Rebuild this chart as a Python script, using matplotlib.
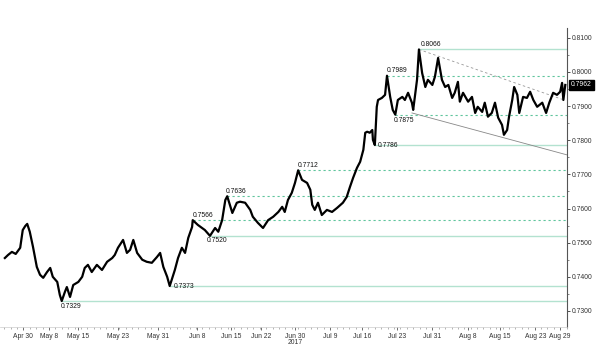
import matplotlib.pyplot as plt
from matplotlib.ticker import MultipleLocator

# x in trading days (May 1 2017 = 0), y = AUD/USD spot
t = [-1.9, -1.4, -0.8, -0.2, 0.5, 0.9, 1.3, 1.6, 2.0, 2.5,
     3.1, 3.6, 4.1, 4.7, 5.2, 5.6, 6.3, 6.7, 7.0, 7.5,
     7.8, 8.3, 8.8, 9.6, 10.2, 10.6, 11.1, 11.7, 12.5, 13.3,
     14.1, 14.9, 15.3, 15.8, 16.6, 17.2, 17.7, 18.2, 18.8, 19.6,
     20.3, 21.1, 21.9, 22.4, 22.9, 23.5, 23.9, 24.7, 25.2, 25.8,
     26.3, 26.8, 27.4, 27.5, 28.3, 29.4, 30.2, 31.0, 31.5, 32.1,
     32.6, 32.9, 33.7, 34.4, 34.9, 35.7, 36.5, 36.9, 37.7, 38.5,
     39.3, 40.1, 40.9, 41.5, 41.9, 42.4, 43.0, 43.5, 44.0, 44.6,
     45.4, 45.9, 46.2, 46.6, 47.1, 47.7, 48.5, 49.3, 50.1, 51.0,
     51.6, 52.1, 52.6, 53.2, 53.7, 54.2, 54.5, 54.8, 55.2, 55.6,
     55.7, 56.0, 56.3, 56.5, 57.1, 57.6, 57.9, 58.4, 58.8, 59.2,
     59.6, 60.3, 60.7, 61.2, 61.8, 62.0, 62.6, 62.9, 63.4, 63.9,
     64.3, 65.0, 65.4, 65.9, 66.5, 67.0, 67.5, 68.1, 68.5, 69.0,
     69.3, 69.8, 70.6, 71.2, 71.7, 72.1, 72.8, 73.2, 73.7, 74.3,
     74.8, 75.3, 75.9, 76.2, 76.7, 77.0, 77.5, 77.8, 78.3, 78.6,
     79.2, 79.8, 80.3, 80.8, 81.4, 82.2, 82.8, 83.3, 83.9, 84.5,
     85.0, 85.3, 85.5, 85.8]

price = [0.7455, 0.7464, 0.7473, 0.7467, 0.7485, 0.7537, 0.7549, 0.7555, 0.7532, 0.7488,
         0.7429, 0.7406, 0.7397, 0.7414, 0.7426, 0.7400, 0.7385, 0.7347, 0.7329, 0.7356,
         0.7370, 0.7341, 0.7376, 0.7385, 0.7400, 0.7426, 0.7435, 0.7414, 0.7435, 0.7420,
         0.7444, 0.7455, 0.7464, 0.7485, 0.7508, 0.7470, 0.7479, 0.7508, 0.7470, 0.7450,
         0.7444, 0.7441, 0.7458, 0.7470, 0.7429, 0.7400, 0.7373, 0.7420, 0.7455, 0.7485,
         0.7470, 0.7514, 0.7546, 0.7566, 0.7552, 0.7537, 0.7520, 0.7543, 0.7532, 0.7566,
         0.7625, 0.7636, 0.7587, 0.7617, 0.7620, 0.7617, 0.7596, 0.7576, 0.7558, 0.7543,
         0.7566, 0.7576, 0.7590, 0.7605, 0.7590, 0.7625, 0.7646, 0.7675, 0.7712, 0.7684,
         0.7675, 0.7655, 0.7611, 0.7596, 0.7617, 0.7581, 0.7596, 0.7590, 0.7602, 0.7617,
         0.7634, 0.7663, 0.7690, 0.7719, 0.7737, 0.7772, 0.7822, 0.7825, 0.7822, 0.7830,
         0.7801, 0.7786, 0.7898, 0.7918, 0.7924, 0.7933, 0.7989, 0.7927, 0.7889, 0.7875,
         0.7918, 0.7927, 0.7918, 0.7939, 0.7910, 0.7889, 0.7977, 0.8066, 0.7997, 0.7956,
         0.7977, 0.7962, 0.7986, 0.8041, 0.7977, 0.7956, 0.7962, 0.7924, 0.7939, 0.7971,
         0.7913, 0.7939, 0.7913, 0.7927, 0.7880, 0.7898, 0.7883, 0.7910, 0.7869, 0.7880,
         0.7910, 0.7866, 0.7845, 0.7816, 0.7830, 0.7869, 0.7918, 0.7956, 0.7933, 0.7880,
         0.7927, 0.7924, 0.7942, 0.7918, 0.7898, 0.7910, 0.7880, 0.7910, 0.7939, 0.7933,
         0.7942, 0.7968, 0.7918, 0.7962]

# support / resistance levels and where they start
levels = [0.8066, 0.7989, 0.7875, 0.7786, 0.7712, 0.7636, 0.7566, 0.7520, 0.7373, 0.7329]
level_start = [62.9, 57.9, 59.2, 56.0, 44.0, 32.9, 27.5, 30.2, 23.9, 7.0]
level_dotted = [False, True, True, False, True, True, True, False, False, False]

# trend channel
upper_x, upper_y = [62.9, 85.3], [0.8066, 0.7920]
lower_x, lower_y = [61.8, 86.1], [0.7880, 0.7757]

tick_pos = [0.9, 5.0, 9.5, 15.8, 22.1, 28.2, 33.5, 38.2, 43.5, 49.0,
            54.0, 59.5, 64.9, 70.6, 75.6, 81.1, 85.0]
tick_lab = ['Apr 30', 'May 8', 'May 15', 'May 23', 'May 31', 'Jun 8', 'Jun 15',
            'Jun 22', 'Jun 30', 'Jul 9', 'Jul 16', 'Jul 23', 'Jul 31', 'Aug 8',
            'Aug 15', 'Aug 23', 'Aug 29']
last_price = 0.7962

plt.rcParams['font.family'] = ['Liberation Sans', 'DejaVu Sans']
SOLID_GREEN = '#b3e2d0'
DOT_GREEN = '#5fc59d'
FS = 4.9

fig = plt.figure(figsize=(6, 3.51), dpi=100)
ax = fig.add_axes([0, 0.0684, 0.945, 0.852])
ax.set_xlim(-2.66, 86.07)
ax.set_ylim(0.7253, 0.8129)

for lvl, x0, dotted in zip(levels, level_start, level_dotted):
    if dotted:
        ax.plot([x0, 86.07], [lvl, lvl], color=DOT_GREEN, lw=0.8,
                linestyle=(0, (2, 2.5)), zorder=1)
    else:
        ax.plot([x0, 86.07], [lvl, lvl], color=SOLID_GREEN, lw=1.0, zorder=1)

ax.plot(upper_x, upper_y, color='#999999', lw=0.6, linestyle=(0, (3, 3)), zorder=1)
ax.plot(lower_x, lower_y, color='#888888', lw=0.6, zorder=1)

ax.plot(t, price, color='black', lw=1.6, zorder=3)

# level labels: (offset in points, va)
label_style = {
    0.8066: ((1, 1), 'bottom'),
    0.7989: ((0, 1), 'bottom'),
    0.7875: ((-1, -1.5), 'top'),
    0.7786: ((2, 0), 'center'),
    0.7712: ((0, 1), 'bottom'),
    0.7636: ((-1, 1), 'bottom'),
    0.7566: ((0, 1), 'bottom'),
    0.7520: ((-2, -1), 'top'),
    0.7373: ((3, 0), 'center'),
    0.7329: ((-1, -1.5), 'top'),
}
for lvl, x0 in zip(levels, level_start):
    off, va = label_style[lvl]
    ax.annotate(f'{lvl:.4f}', (x0, lvl), xytext=off, textcoords='offset points',
                ha='left', va=va, fontsize=FS, color='#111111', zorder=4)

# axes styling
for s in ['left', 'top']:
    ax.spines[s].set_visible(False)
ax.spines['right'].set_color('#555555')
ax.spines['right'].set_linewidth(0.8)
ax.spines['bottom'].set_color('#cccccc')
ax.spines['bottom'].set_linewidth(0.5)

ax.yaxis.tick_right()
ax.yaxis.set_major_locator(MultipleLocator(0.01))
ax.yaxis.set_minor_locator(MultipleLocator(0.005))
ax.yaxis.set_major_formatter(plt.FuncFormatter(lambda v, p: f'{v:.4f}'))
ax.tick_params(axis='y', which='major', length=2.5, width=0.6, pad=1,
               labelsize=FS, colors='#333333')
ax.tick_params(axis='y', which='minor', length=1.5, width=0.5, colors='#555555')

ax.set_xticks(tick_pos)
ax.set_xticklabels(tick_lab)
ax.xaxis.set_minor_locator(MultipleLocator(1))
ax.tick_params(axis='x', which='major', length=2, width=0.5, pad=2,
               labelsize=FS, colors='#333333')
ax.tick_params(axis='x', which='minor', length=1.2, width=0.4, colors='#777777')

ax.text(43.5, -0.04, '2017', transform=ax.get_xaxis_transform(),
        ha='center', va='top', fontsize=FS, color='#333333')

ax.annotate(f'{last_price:.4f}', (1.0, last_price), xycoords=('axes fraction', 'data'),
            xytext=(3, 0), textcoords='offset points', ha='left', va='center',
            fontsize=FS, color='white',
            bbox=dict(boxstyle='square,pad=0.25', fc='black', ec='black'))

fig.savefig('out.png', dpi=100)
